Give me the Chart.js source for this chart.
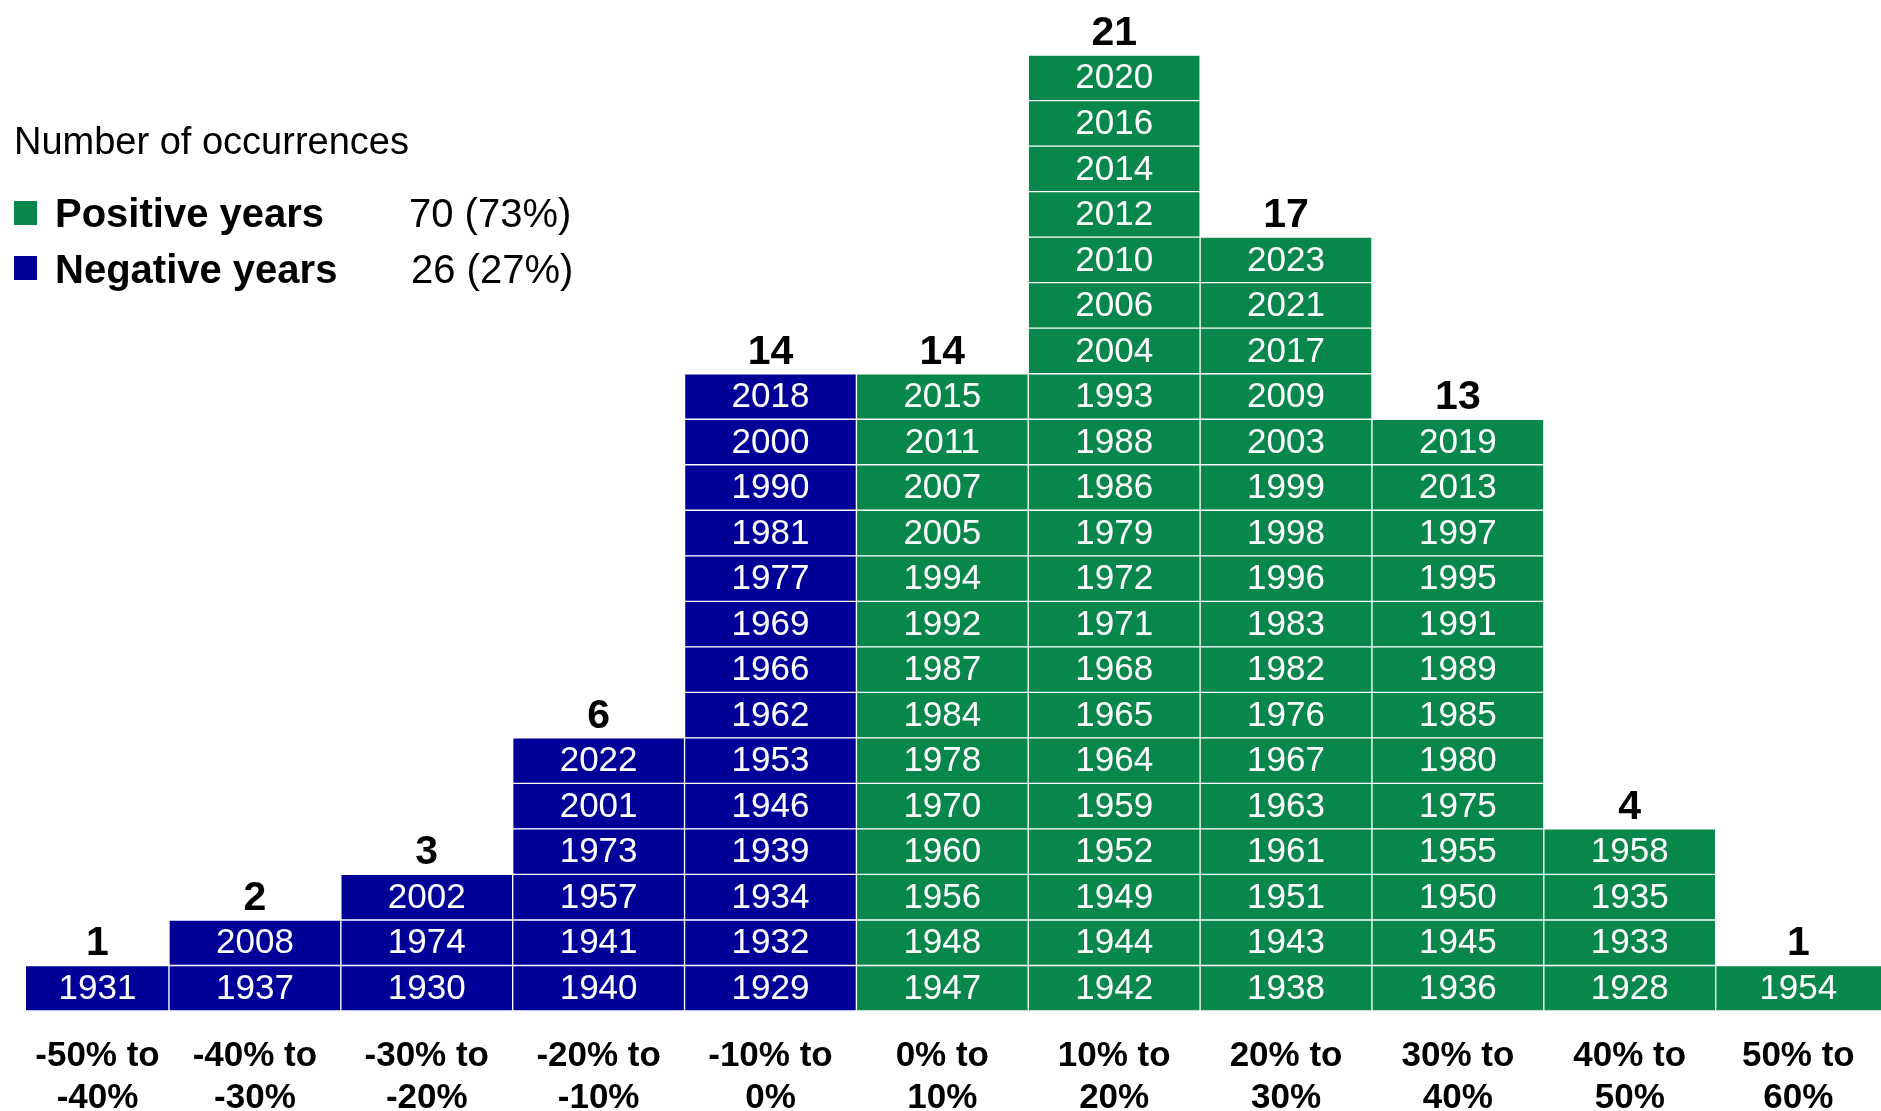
<!DOCTYPE html>
<html>
<head>
<meta charset="utf-8">
<script src="https://cdn.jsdelivr.net/npm/chart.js@4.4.1/dist/chart.umd.min.js"></script>
<style>
  html, body { margin: 0; padding: 0; background: #ffffff; overflow: hidden; }
  #wrap { position: relative; width: 1881px; height: 1111px; }
</style>
</head>
<body>
<div id="wrap"><canvas id="c"></canvas></div>
<script>
// ---- Data ----
const categories = [
  ['-50% to', '-40%'], ['-40% to', '-30%'], ['-30% to', '-20%'], ['-20% to', '-10%'],
  ['-10% to', '0%'], ['0% to', '10%'], ['10% to', '20%'], ['20% to', '30%'],
  ['30% to', '40%'], ['40% to', '50%'], ['50% to', '60%']
];
// years in each return bin, listed bottom to top
const yearsBin0 = [1931];
const yearsBin1 = [1937, 2008];
const yearsBin2 = [1930, 1974, 2002];
const yearsBin3 = [1940, 1941, 1957, 1973, 2001, 2022];
const yearsBin4 = [1929, 1932, 1934, 1939, 1946, 1953, 1962, 1966, 1969, 1977, 1981, 1990, 2000, 2018];
const yearsBin5 = [1947, 1948, 1956, 1960, 1970, 1978, 1984, 1987, 1992, 1994, 2005, 2007, 2011, 2015];
const yearsBin6 = [1942, 1944, 1949, 1952, 1959, 1964, 1965, 1968, 1971, 1972, 1979, 1986, 1988, 1993, 2004, 2006, 2010, 2012, 2014, 2016, 2020];
const yearsBin7 = [1938, 1943, 1951, 1961, 1963, 1967, 1976, 1982, 1983, 1996, 1998, 1999, 2003, 2009, 2017, 2021, 2023];
const yearsBin8 = [1936, 1945, 1950, 1955, 1975, 1980, 1985, 1989, 1991, 1995, 1997, 2013, 2019];
const yearsBin9 = [1928, 1933, 1935, 1958];
const yearsBin10 = [1954];
const binIsPositive = [false, false, false, false, false, true, true, true, true, true, true];

const yearsByBin = [yearsBin0, yearsBin1, yearsBin2, yearsBin3, yearsBin4, yearsBin5,
                    yearsBin6, yearsBin7, yearsBin8, yearsBin9, yearsBin10];

// ---- Styles ----
const GREEN = '#08874B';
const BLUE = '#000099';
const FONT = "'Liberation Sans', Arial, sans-serif";

// Build one dataset per stack level
const maxCount = Math.max(...yearsByBin.map(a => a.length));
const datasets = [];
for (let k = 0; k < maxCount; k++) {
  const pts = [], cols = [], colors = [];
  yearsByBin.forEach((yrs, i) => {
    if (yrs.length > k) {
      pts.push({ x: i + 0.5, y: 1 });
      cols.push(i);
      colors.push(binIsPositive[i] ? GREEN : BLUE);
    }
  });
  datasets.push({
    label: 'level ' + (k + 1),
    data: pts,
    colIndex: cols,
    level: k,
    backgroundColor: colors,
    borderColor: '#ffffff',
    borderWidth: 1,
    borderSkipped: false,
    categoryPercentage: 1,
    barPercentage: 1,
    clip: 0
  });
}

const posTotal = yearsByBin.filter((a, i) => binIsPositive[i]).reduce((s, a) => s + a.length, 0);
const negTotal = yearsByBin.filter((a, i) => !binIsPositive[i]).reduce((s, a) => s + a.length, 0);
const allTotal = posTotal + negTotal;

function visibleCenter(i, area, xs) {
  const l = Math.max(xs.getPixelForValue(i), area.left);
  const r = Math.min(xs.getPixelForValue(i + 1), area.right);
  return (l + r) / 2;
}

const labelPlugin = {
  id: 'cellLabels',
  afterDatasetsDraw(chart) {
    const ctx = chart.ctx;
    const area = chart.chartArea;
    const xs = chart.scales.x, ys = chart.scales.y;
    ctx.save();
    // year labels in each cell
    ctx.fillStyle = '#ffffff';
    ctx.textAlign = 'center';
    ctx.textBaseline = 'middle';
    ctx.font = '35px ' + FONT;
    chart.data.datasets.forEach((ds, di) => {
      const meta = chart.getDatasetMeta(di);
      meta.data.forEach((bar, j) => {
        const col = ds.colIndex[j];
        const yr = yearsByBin[col][ds.level];
        const cx = visibleCenter(col, area, xs);
        const cy = (bar.y + bar.base) / 2 + 1;
        ctx.fillText(String(yr), cx, cy);
      });
    });
    // count labels on top of each column
    ctx.fillStyle = '#000000';
    ctx.font = 'bold 41px ' + FONT;
    ctx.textBaseline = 'alphabetic';
    yearsByBin.forEach((yrs, i) => {
      const cx = visibleCenter(i, area, xs);
      const top = ys.getPixelForValue(yrs.length);
      ctx.fillText(String(yrs.length), cx, top - 10);
    });
    ctx.restore();
  },
  afterDraw(chart) {
    const ctx = chart.ctx;
    ctx.save();
    ctx.textAlign = 'left';
    ctx.textBaseline = 'alphabetic';
    ctx.fillStyle = '#000000';
    ctx.font = '38px ' + FONT;
    ctx.fillText('Number of occurrences', 14, 154);
    // positive
    ctx.fillStyle = GREEN;
    ctx.fillRect(14, 201, 23, 24);
    ctx.fillStyle = '#000000';
    ctx.font = 'bold 40px ' + FONT;
    ctx.fillText('Positive years', 55, 227);
    ctx.font = '40px ' + FONT;
    ctx.fillText(posTotal + ' (' + Math.round(posTotal / allTotal * 100) + '%)', 409, 227);
    // negative
    ctx.fillStyle = BLUE;
    ctx.fillRect(14, 256, 23, 24);
    ctx.fillStyle = '#000000';
    ctx.font = 'bold 40px ' + FONT;
    ctx.fillText('Negative years', 55, 283);
    ctx.font = '40px ' + FONT;
    ctx.fillText(negTotal + ' (' + Math.round(negTotal / allTotal * 100) + '%)', 411, 283);
    ctx.restore();
  }
};

const X_MIN = 0.168, X_MAX = 10.962;

new Chart(document.getElementById('c'), {
  type: 'bar',
  data: { datasets },
  options: {
    responsive: true,
    maintainAspectRatio: false,
    animation: false,
    layout: { padding: { left: 26, right: 0, top: 0, bottom: 0 } },
    plugins: { legend: { display: false }, tooltip: { enabled: false }, title: { display: false } },
    scales: {
      x: {
        type: 'linear',
        stacked: true,
        display: false,
        offset: false,
        min: X_MIN, max: X_MAX,
        bounds: 'data',
        grid: { offset: false },
        afterBuildTicks: (scale) => {
          scale.ticks = categories.map((_, i) => ({ value: i + 0.5 }));
        },
        afterFit: (scale) => { scale.paddingLeft = 0; scale.paddingRight = 0; }
      },
      x2: {
        type: 'linear',
        position: 'bottom',
        offset: false,
        min: X_MIN, max: X_MAX,
        bounds: 'data',
        grid: { display: false, drawTicks: false, offset: false },
        border: { display: false },
        afterBuildTicks: (scale) => {
          const lo = scale.min, hi = scale.max;
          scale.ticks = categories.map((_, i) => ({ value: (Math.max(i, lo) + Math.min(i + 1, hi)) / 2 }));
        },
        afterFit: (scale) => {
          scale.height = 100;
          scale.paddingLeft = 0;
          scale.paddingRight = 0;
        },
        ticks: {
          autoSkip: false,
          maxRotation: 0,
          minRotation: 0,
          padding: 24,
          color: '#000000',
          font: { family: FONT, size: 35, weight: 'bold', lineHeight: 1.2 },
          callback: (v, idx) => categories[idx]
        }
      },
      y: {
        stacked: true,
        display: false,
        min: 0,
        max: 22.21
      }
    }
  },
  plugins: [labelPlugin]
});
</script>
</body>
</html>
